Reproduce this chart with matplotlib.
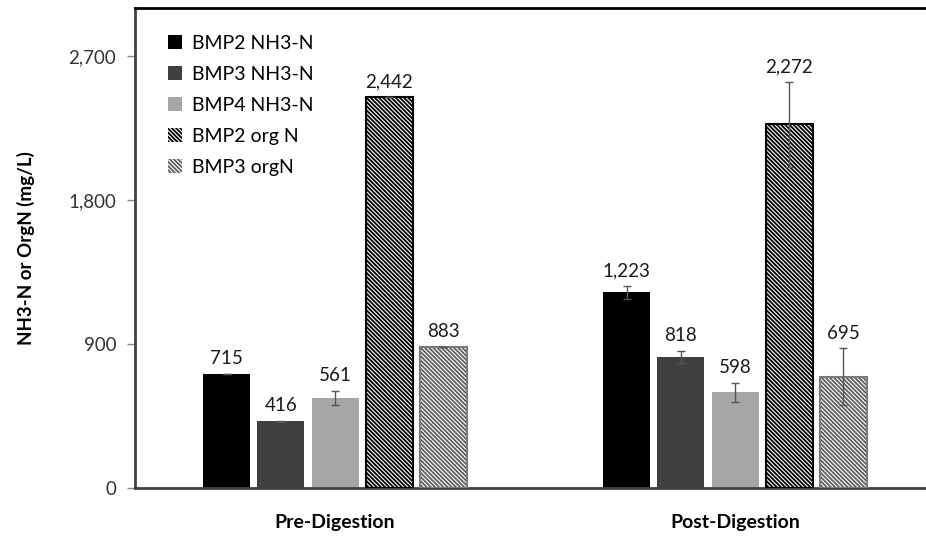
import matplotlib
matplotlib.use("Agg")
import matplotlib.pyplot as plt
import numpy as np
from matplotlib.patches import Patch

plt.rcParams['font.family'] = ['Lato', 'DejaVu Sans']
plt.rcParams['hatch.linewidth'] = 0.8

categories = ["Pre-Digestion", "Post-Digestion"]
series_names = ["BMP2 NH3-N", "BMP3 NH3-N", "BMP4 NH3-N", "BMP2 org N", "BMP3 orgN"]
bmp2_nh3 = [715, 1223]
bmp3_nh3 = [416, 818]
bmp4_nh3 = [561, 598]
bmp2_org = [2442, 2272]
bmp3_org = [883, 695]
bmp2_nh3_err = [0, 40]
bmp3_nh3_err = [3, 36]
bmp4_nh3_err = [45, 58]
bmp2_org_err = [0, 265]
bmp3_org_err = [0, 177]
yticks = [0, 900, 1800, 2700]

values = [bmp2_nh3, bmp3_nh3, bmp4_nh3, bmp2_org, bmp3_org]
errors = [bmp2_nh3_err, bmp3_nh3_err, bmp4_nh3_err, bmp2_org_err, bmp3_org_err]
faces = ['#000000', '#404040', '#a6a6a6', '#000000', '#606060']
hatches = [None, None, None, '\\' * 8, '\\' * 8]
borders = [None, None, None, '#000000', '#7a7a7a']

fig = plt.figure(figsize=(9.26, 5.38), dpi=100)
ax = fig.add_axes([135/926, 1-488/538, 1-135/926, (488-8)/538])

x = np.arange(len(categories))
step = 0.1355
width = 0.1175
handles = []
for i, (vals, errs) in enumerate(zip(values, errors)):
    pos = x + (i - 2) * step
    if hatches[i]:
        ax.bar(pos, vals, width, color=faces[i], edgecolor='white', hatch=hatches[i], linewidth=0, zorder=2)
        ax.bar(pos, vals, width, fill=False, edgecolor=borders[i], linewidth=1.5, zorder=3)
        handles.append(Patch(facecolor=faces[i], edgecolor='white', hatch=hatches[i], linewidth=0))
    else:
        ax.bar(pos, vals, width, color=faces[i], linewidth=0, zorder=2)
        handles.append(Patch(facecolor=faces[i], linewidth=0))
    ax.errorbar(pos, vals, yerr=errs, fmt='none', ecolor='#555555', elinewidth=1, capsize=3, capthick=1, zorder=4)
    for p, v, e in zip(pos, vals, errs):
        ax.annotate(f"{v:,}", (p, v + e), xytext=(0, 5), textcoords='offset points',
                    ha='center', va='bottom', fontsize=13.5, color='#1a1a1a')

ax.set_xlim(-0.5, -0.5 + (926-135)/400)
ax.set_ylim(0, 3000)
ax.set_yticks(yticks)
ax.set_yticklabels([f"{t:,}" for t in yticks], fontsize=13.5, color='#333333')
ax.set_xticks(x)
ax.set_xticklabels(categories, fontsize=14, fontweight='bold')
ax.tick_params(axis='x', length=0, pad=19)
ax.tick_params(axis='y', length=5.5, color='#888888', width=1, pad=8)
ax.set_ylabel("NH3-N or OrgN (mg/L)", fontsize=13.5, fontweight='bold', labelpad=24)

for s in ['left', 'bottom']:
    ax.spines[s].set_color('#404040')
    ax.spines[s].set_linewidth(2)
ax.spines['top'].set_color('#000000')
ax.spines['top'].set_linewidth(2)
ax.spines['right'].set_visible(False)

ax.legend(handles, series_names, loc='upper left', bbox_to_anchor=(0.02, 0.98), frameon=False,
          fontsize=14, handlelength=0.7, handleheight=0.7, handletextpad=0.5, labelspacing=0.72)

fig.savefig("out.png", dpi=100)
